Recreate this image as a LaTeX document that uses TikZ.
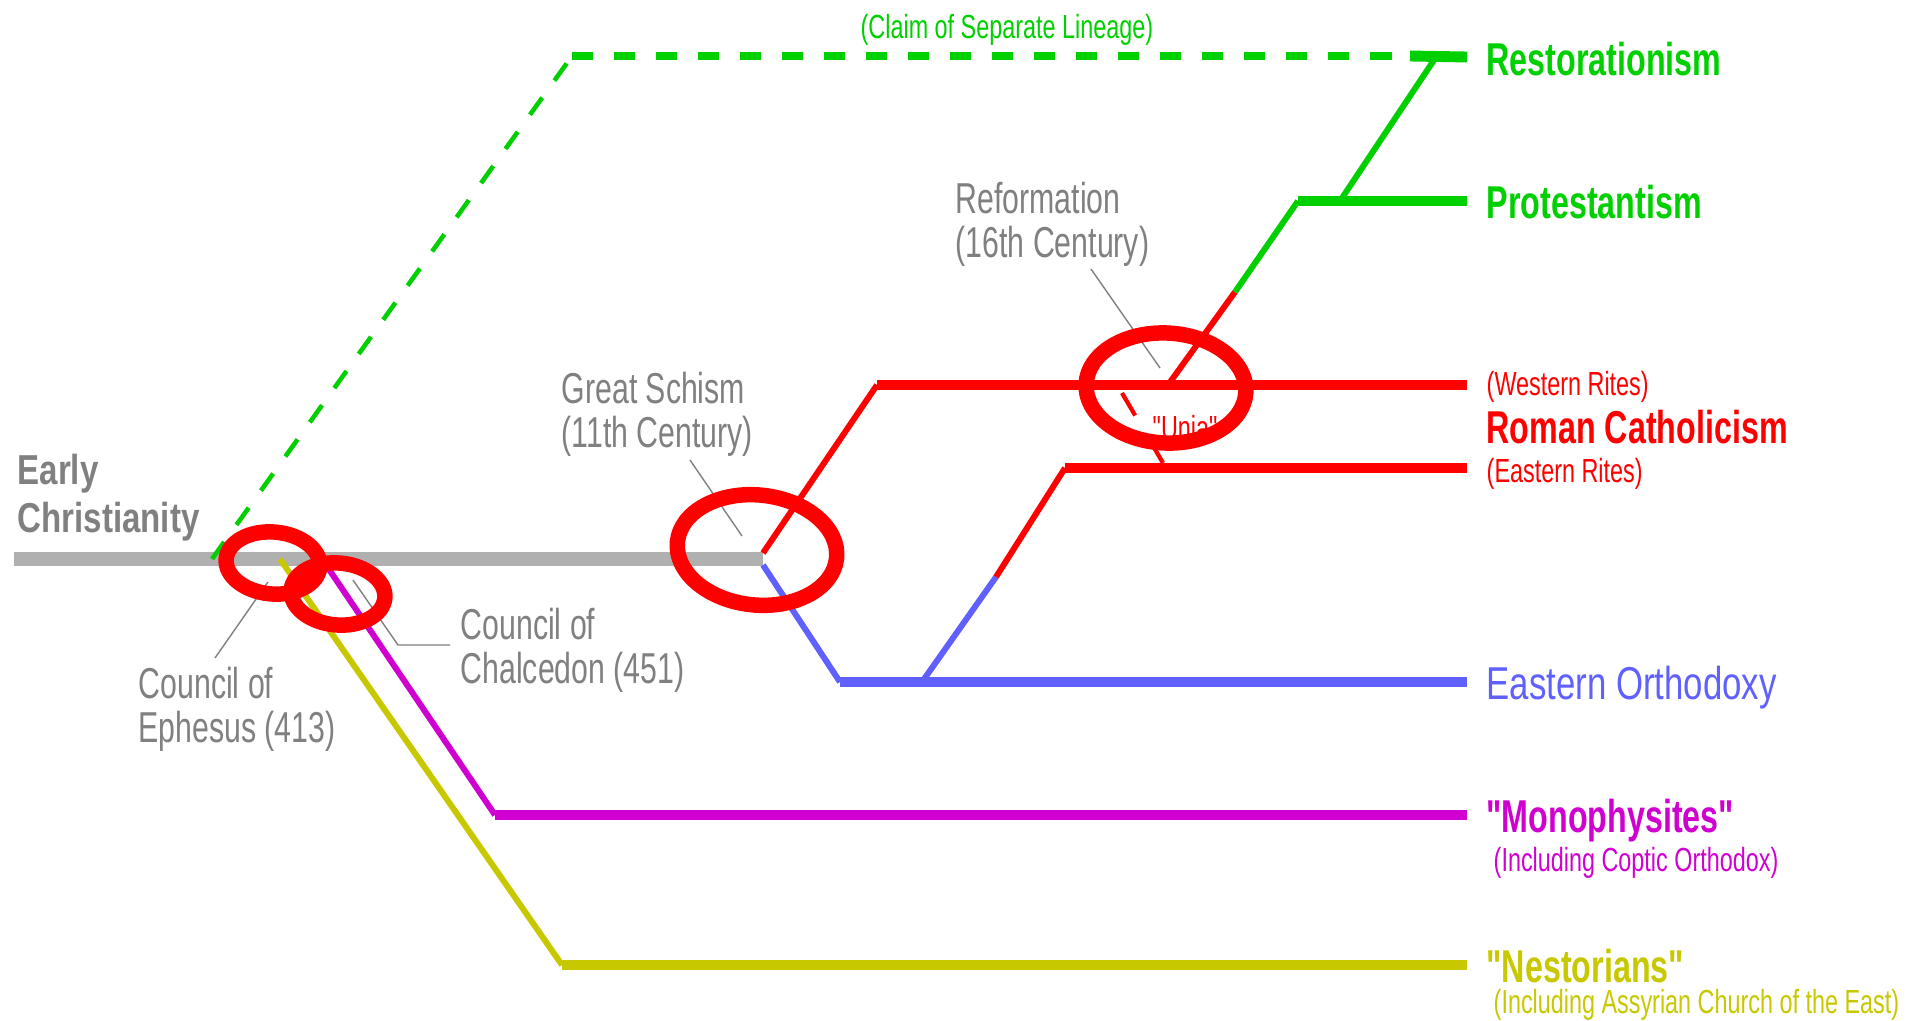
\documentclass[tikz,border=0pt]{standalone}
\usepackage{fontspec}
\setmainfont{Liberation Sans}[FakeStretch=0.7, Ligatures=TeXOff]
\newfontfamily\wideface{Liberation Sans}[FakeStretch=0.79, Ligatures=TeXOff]
\newfontfamily\orthface{Liberation Sans}[FakeStretch=0.755, Ligatures=TeXOff]
\usetikzlibrary{positioning}

\definecolor{trunkgrey}{RGB}{176,176,176}
\definecolor{textgrey}{RGB}{128,128,128}
\definecolor{protgreen}{RGB}{0,208,0}
\definecolor{orthblue}{RGB}{96,96,255}
\definecolor{monomag}{RGB}{208,0,208}
\definecolor{nestolive}{RGB}{200,200,0}

\begin{document}
\begin{tikzpicture}[x=0.01cm, y=-0.01cm,
    txt/.style={anchor=base west, inner sep=0pt, align=left},
    bigbold/.style={txt, font=\fontsize{13.1}{14}\selectfont\bfseries},
    bigplain/.style={txt, font=\fontsize{13.1}{14}\selectfont\orthface},
    small/.style={txt, font=\fontsize{9.5}{10}\selectfont},
    note/.style={txt, textgrey, font=\fontsize{12.3}{12.4}\selectfont},
    trunk/.style={trunkgrey, line width=4pt},
    branch/.style={line width=3.1pt},
    slope/.style={line width=1.7pt},
    leader/.style={textgrey, line width=0.4pt},
    ring/.style={red, line width=4.4pt},
    lineage/.style={protgreen, dash pattern=on 0.21cm off 0.21cm},]
    \useasboundingbox (0,0) rectangle (1923,1021);
    % points
    \coordinate (start)    at (14,559);
    \coordinate (schism)   at (763,559);
    \coordinate (nestor0)  at (280,559);
    \coordinate (nestor1)  at (562,965);
    \coordinate (nestor2)  at (1467,965);
    \coordinate (mono0)    at (322,559);
    \coordinate (mono1)    at (495,815);
    \coordinate (mono2)    at (1467,815);
    \coordinate (lin0)     at (212,559);
    \coordinate (lin1)     at (572,56);
    \coordinate (lin2)     at (1410,56);
    \coordinate (rest2)    at (1467,57);
    \coordinate (west0)    at (763,553);
    \coordinate (west1)    at (877,385);
    \coordinate (west2)    at (1467,385);
    \coordinate (orth0)    at (763,565);
    \coordinate (orth1)    at (840,682);
    \coordinate (orth2)    at (1467,682);
    \coordinate (east0)    at (922,682);
    \coordinate (eastmid)  at (996,577);
    \coordinate (east1)    at (1065,468);
    \coordinate (east2)    at (1467,468);
    \coordinate (ref0)     at (1168,385);
    \coordinate (refmid)   at (1235,292);
    \coordinate (prot1)    at (1298,201);
    \coordinate (prot2)    at (1467,201);
    \coordinate (rest0)    at (1340,201);
    \coordinate (rest1)    at (1436,57);
    \coordinate (unia0)    at (1122,393);
    \coordinate (unia1)    at (1163,463);
    % labels
    \node[bigbold, textgrey, font=\fontsize{11.9}{13.4}\selectfont\bfseries\wideface] (early) at (17,532) {Early\\Christianity};
    \node[bigbold, protgreen] (restor) at (1486,75) {Restorationism};
    \node[bigbold, protgreen] (protest) at (1486,218) {Protestantism};
    \node[small, red] (westrites) at (1486,395) {(Western Rites)};
    \node[bigbold, red] (roman) at (1486,443) {Roman Catholicism};
    \node[small, red] (eastrites) at (1486,482) {(Eastern Rites)};
    \node[bigplain, orthblue] (orthodox) at (1486,699) {Eastern Orthodoxy};
    \node[bigbold, monomag] (monophys) at (1486,832) {"Monophysites"};
    \node[small, monomag] (coptic) at (1493,871) {(Including Coptic Orthodox)};
    \node[bigbold, nestolive] (nestorians) at (1486,982) {"Nestorians"};
    \node[small, nestolive] (assyrian) at (1493,1013) {(Including Assyrian Church of the East)};
    \node[small, protgreen] (claim) at (860,38) {(Claim of Separate Lineage)};
    \node[small, red] (unia) at (1152,439) {"Unia"};
    \node[note] (ephesus) at (138,742) {Council of\\Ephesus (413)};
    \node[note] (chalcedon) at (460,683) {Council of\\Chalcedon (451)};
    \node[note] (greatschism) at (561,447) {Great Schism\\(11th Century)};
    \node[note] (reformation) at (955,257) {Reformation\\(16th Century)};
    % lines
    \draw[trunk] (start) -- (schism);
    \draw[lineage, line width=1.3pt] (lin0) -- (lin1);
    \draw[lineage, line width=2.3pt] (lin1) -- (lin2);
    \draw[protgreen, branch] (lin2) -- (rest2);
    \draw[nestolive, slope] (nestor0) -- (nestor1);
    \draw[nestolive, branch] (nestor1) -- (nestor2);
    \draw[monomag, slope] (mono0) -- (mono1);
    \draw[monomag, branch] (mono1) -- (mono2);
    \draw[red, slope] (west0) -- (west1);
    \draw[red, branch] (west1) -- (west2);
    \draw[orthblue, slope] (orth0) -- (orth1);
    \draw[orthblue, branch] (orth1) -- (orth2);
    \draw[orthblue, slope] (east0) -- (eastmid);
    \draw[red, slope] (eastmid) -- (east1);
    \draw[red, branch] (east1) -- (east2);
    \draw[red, slope] (ref0) -- (refmid);
    \draw[protgreen, slope] (refmid) -- (prot1);
    \draw[protgreen, branch] (prot1) -- (prot2);
    \draw[protgreen, slope] (rest0) -- (rest1);
    \draw[red, line width=1.2pt, dash pattern=on 0.26cm off 0.3cm] (unia0) -- (unia1);
    % leaders
    \draw[leader] (268,582) -- (215,658);
    \draw[leader] (353,580) -- (398,645) -- (450,645);
    \draw[leader] (690,460) -- (742,536);
    \draw[leader] (1091,269) -- (1160,368);
    % circles
    \draw[ring, rotate around={-5:(273,563)}] (273,563) ellipse [x radius=47, y radius=31];
    \draw[ring, rotate around={-5:(338,594)}] (338,594) ellipse [x radius=47, y radius=31];
    \draw[ring, rotate around={-6:(757,550)}] (757,550) ellipse [x radius=80, y radius=55];
    \draw[ring, rotate around={-3:(1166,388)}] (1166,388) ellipse [x radius=80, y radius=55];
\end{tikzpicture}
\end{document}
